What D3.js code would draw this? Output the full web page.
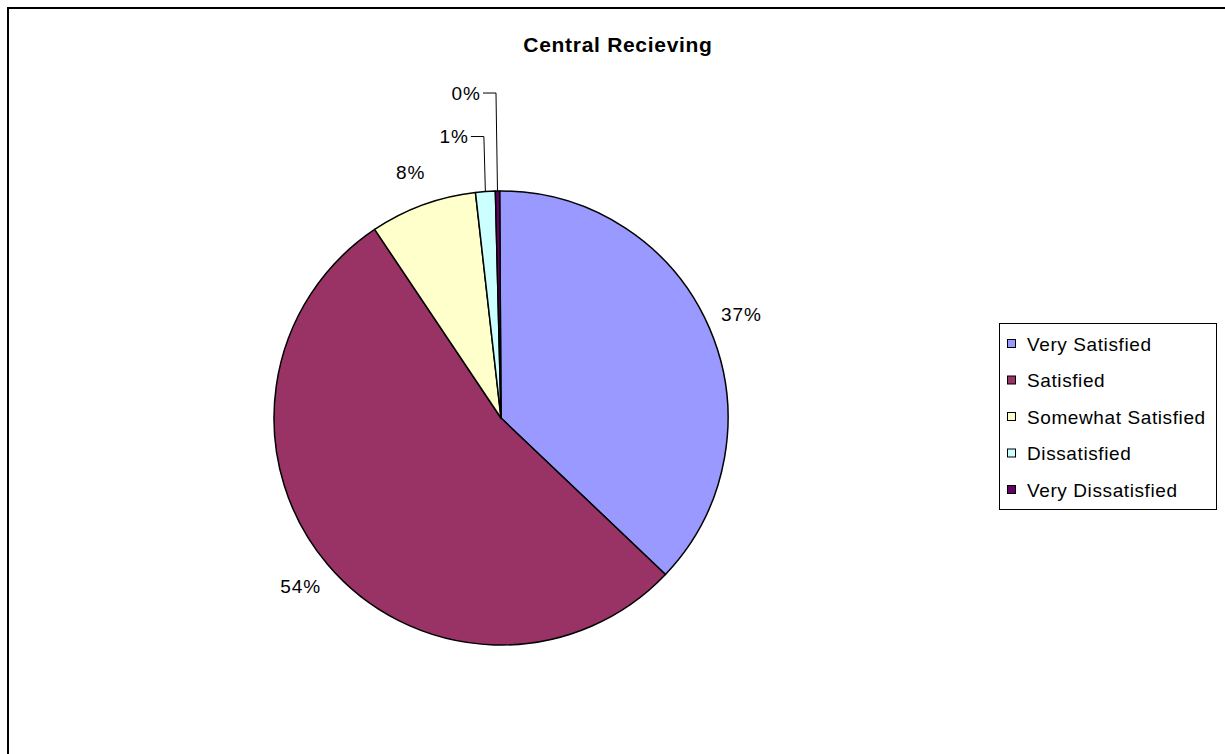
<!DOCTYPE html>
<html>
<head>
<meta charset="utf-8">
<script src="https://cdn.jsdelivr.net/npm/d3@7"></script>
<style>
  html, body { margin: 0; padding: 0; background: #fff; }
  svg { display: block; font-family: "Liberation Sans", Arial, sans-serif; }
</style>
</head>
<body>
<svg id="chart" width="1225" height="754"></svg>
<script>
const title = "Central Recieving";
const categories = ["Very Satisfied", "Satisfied", "Somewhat Satisfied", "Dissatisfied", "Very Dissatisfied"];
const values = [37.2, 53.5, 7.6, 1.4, 0.3];
const colors = ["#9999FF", "#993366", "#FFFFCC", "#CCFFFF", "#660066"];

const svg = d3.select("#chart");
const W = 1225, H = 754;

// outer frame
svg.append("rect").attr("x", 8).attr("y", 8).attr("width", W + 20).attr("height", H + 20)
  .attr("fill", "#fff").attr("stroke", "#000").attr("stroke-width", 2);

// title
svg.append("text").attr("x", 618).attr("y", 52).attr("text-anchor", "middle")
  .attr("font-size", 21).attr("font-weight", "bold").attr("letter-spacing", 0.7)
  .text(title);

const cx = 501, cy = 418, r = 227;
const total = d3.sum(values);
const data = categories.map((c, i) => ({ name: c, value: values[i], color: colors[i] }));

const pie = d3.pie().value(d => d.value).sort(null).startAngle(-0.006).endAngle(2 * Math.PI - 0.006);
const arcs = pie(data);
const arc = d3.arc().innerRadius(0).outerRadius(r);

const g = svg.append("g").attr("transform", `translate(${cx},${cy})`);
g.selectAll("path").data(arcs).join("path")
  .attr("d", arc)
  .attr("fill", d => d.data.color)
  .attr("stroke", "#000").attr("stroke-width", 1.5).attr("stroke-linejoin", "round");

const fmt = v => d3.format(".0f")(v / total * 100) + "%";
const labelR = 262;
let smallIdx = 0;
arcs.forEach(d => {
  const mid = (d.startAngle + d.endAngle) / 2;
  const pct = d.data.value / total * 100;
  if (pct >= 2) {
    const x = Math.sin(mid) * labelR, y = -Math.cos(mid) * labelR;
    g.append("text").attr("x", x).attr("y", y).attr("text-anchor", "middle")
      .attr("dominant-baseline", "central").attr("font-size", 19).attr("letter-spacing", 1)
      .text(fmt(d.data.value));
  } else {
    const px = Math.sin(mid) * r, py = -Math.cos(mid) * r;
    const ly = py - 55 - smallIdx * 43;
    const ex = px - 1.5;
    g.append("path")
      .attr("d", `M${px},${py}L${ex},${ly}L${ex - 13},${ly}`)
      .attr("fill", "none").attr("stroke", "#000").attr("stroke-width", 1);
    g.append("text").attr("x", ex - 15).attr("y", ly).attr("text-anchor", "end")
      .attr("dominant-baseline", "central").attr("font-size", 19).attr("letter-spacing", 1)
      .text(fmt(d.data.value));
    smallIdx++;
  }
});

// legend
const lg = svg.append("g");
lg.append("rect").attr("x", 999.5).attr("y", 323.5).attr("width", 217).attr("height", 186)
  .attr("fill", "#fff").attr("stroke", "#000").attr("stroke-width", 1);
const ly = d3.scalePoint().domain(categories).range([344, 490]);
categories.forEach((c, i) => {
  lg.append("rect").attr("x", 1007.5).attr("y", ly(c) - 4.5).attr("width", 8).attr("height", 8)
    .attr("fill", colors[i]).attr("stroke", "#000").attr("stroke-width", 1);
  lg.append("text").attr("x", 1027).attr("y", ly(c)).attr("dominant-baseline", "central")
    .attr("font-size", 19).attr("letter-spacing", 0.6).text(c);
});
</script>
</body>
</html>
